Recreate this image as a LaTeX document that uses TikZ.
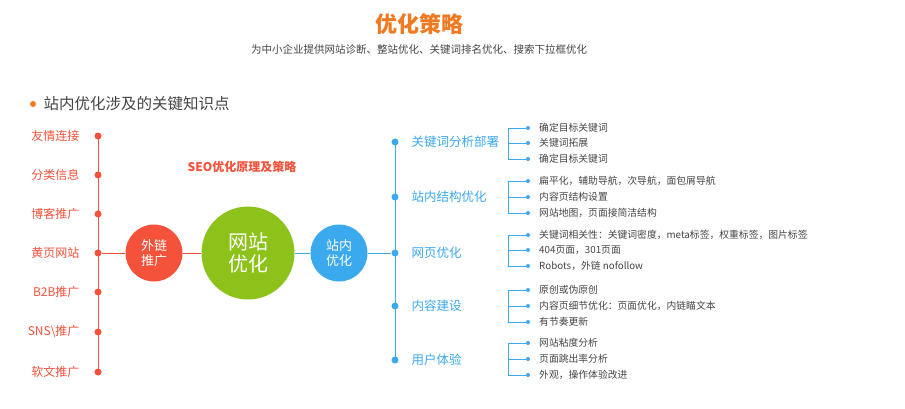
\documentclass[tikz,border=0pt]{standalone}
\usepackage{fontspec}
\setmainfont{Noto Sans CJK SC}
\usetikzlibrary{positioning}
\definecolor{redline}{HTML}{F4523B}
\definecolor{seogreen}{HTML}{8CC21A}
\definecolor{seoblue}{HTML}{3AA9EE}
\definecolor{titleorange}{HTML}{F07A22}
\definecolor{graytext}{HTML}{444444}
\begin{document}
\begin{tikzpicture}[x=1pt,y=-1pt,
  rdot/.style={circle,fill=redline,inner sep=0pt,minimum size=7pt},
  bdot/.style={circle,fill=seoblue,inner sep=0pt,minimum size=7pt},
  sdot/.style={circle,fill=seoblue,inner sep=0pt,minimum size=4pt},
  outlbl/.style={anchor=east,text=redline,font=\fontsize{12}{12}\selectfont},
  inlbl/.style={anchor=west,text=seoblue,font=\fontsize{12.5}{13}\selectfont},
  itemlbl/.style={anchor=west,text=graytext,font=\fontsize{9.8}{10}\selectfont,inner sep=0pt}]

  \useasboundingbox (0,0) rectangle (905,409);

  % titles
  \node[text=titleorange,font=\fontsize{22}{24}\selectfont\bfseries] (title) at (419,24) {优化策略};
  \node[text=graytext,font=\fontsize{10.5}{12}\selectfont] (subtitle) at (419,49) {为中小企业提供网站诊断、整站优化、关键词排名优化、搜索下拉框优化};
  \node[circle,fill=titleorange,inner sep=0pt,minimum size=6pt] (hdot) at (33,104) {};
  \node[anchor=west,text=graytext,font=\fontsize{15.5}{16}\selectfont] (heading) at (40,104) {站内优化涉及的关键知识点};
  \node[text=redline,font=\fontsize{12}{13}\selectfont\bfseries] (seo) at (242,167) {SEO优化原理及策略};

  % left column
  \draw[redline,thick] (98,136) -- (98,372);
  \foreach \y/\lbl [count=\i] in {136/友情连接,175/分类信息,214/博客推广,253/黄页网站,292/B2B推广,332/SNS{\textbackslash}推广,372/软文推广}{
    \node[rdot] (o\i) at (98,\y) {};
    \node[outlbl] (ol\i) at (83,\y) {\lbl};
  }

  % circles
  \node[circle,fill=redline,minimum size=57pt,inner sep=0pt,text=white,align=center,font=\fontsize{13}{15}\selectfont] (wailian) at (154,253) {外链\\推广};
  \node[circle,fill=seogreen,minimum size=93pt,inner sep=0pt,text=white,align=center,font=\fontsize{20}{22}\selectfont] (wangzhan) at (248,253) {网站\\优化};
  \node[circle,fill=seoblue,minimum size=57pt,inner sep=0pt,text=white,align=center,font=\fontsize{13}{15}\selectfont] (zhannei) at (339,253) {站内\\优化};
  \draw[redline,thick] (o4) -- (wailian);
  \draw[redline,thick] (wailian) -- (wangzhan);
  \draw[seoblue,thick] (wangzhan) -- (zhannei);

  % right column
  \draw[seoblue,thick] (395,142) -- (395,360);
  \foreach \y/\lbl [count=\i] in {142/关键词分析部署,197/站内结构优化,253/网页优化,306/内容建设,360/用户体验}{
    \node[bdot] (b\i) at (395,\y) {};
    \node[inlbl] (bl\i) at (408,\y) {\lbl};
  }
  \draw[seoblue,thick] (zhannei) -- (b3);

  % sub items
  \foreach \g/\ya/\yb/\yc/\ta/\tb/\tc in {
    1/128/143/159/确定目标关键词/关键词拓展/确定目标关键词,
    2/181/197/213/{扁平化，辅助导航，次导航，面包屑导航}/内容页结构设置/{网站地图，页面接简洁结构},
    3/235/250/266/{关键词相关性：关键词密度，meta标签，权重标签，图片标签}/{404页面，301页面}/{Robots，外链 nofollow},
    4/290/306/322/原创或伪原创/{内容页细节优化：页面优化，内链瞄文本}/有节奏更新,
    5/343/359/375/网站粘度分析/页面跳出率分析/{外观，操作体验改进}}{
    \draw[seoblue] (508,\ya) -- (508,\yc);
    \node[sdot] (s\g a) at (528,\ya) {};
    \node[sdot] (s\g b) at (528,\yb) {};
    \node[sdot] (s\g c) at (528,\yc) {};
    \draw[seoblue] (508,\ya) -- (s\g a);
    \draw[seoblue] (508,\yb) -- (s\g b);
    \draw[seoblue] (508,\yc) -- (s\g c);
    \node[itemlbl] (t\g a) at (539,\ya) {\ta};
    \node[itemlbl] (t\g b) at (539,\yb) {\tb};
    \node[itemlbl] (t\g c) at (539,\yc) {\tc};
  }

\end{tikzpicture}
\end{document}
